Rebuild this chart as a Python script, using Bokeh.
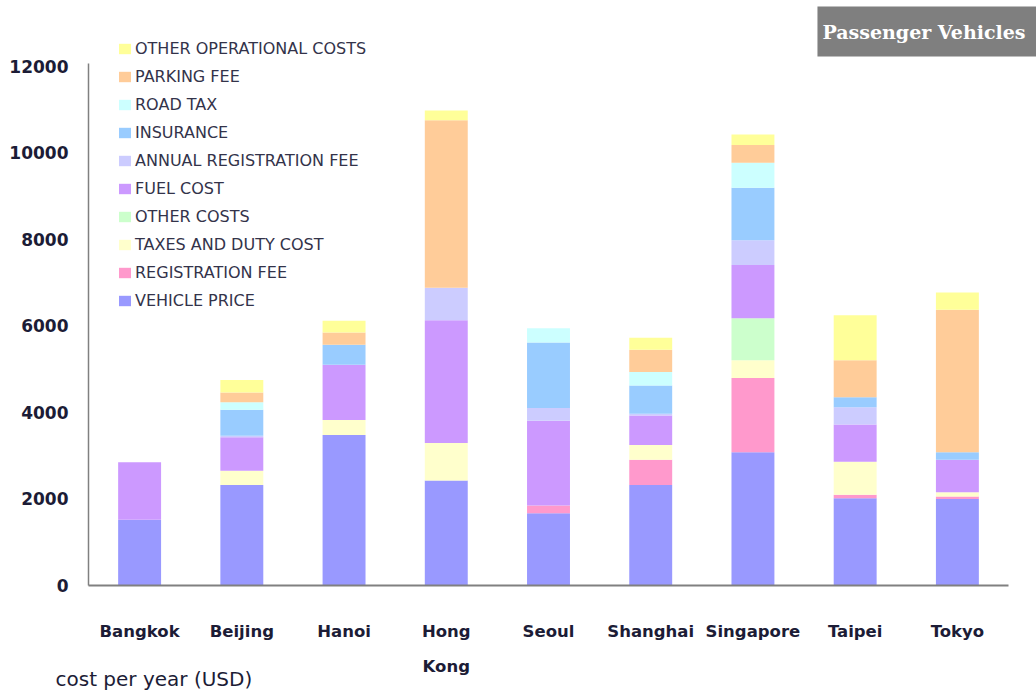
from bokeh.plotting import figure
from bokeh.models import Legend, LegendItem, Label, FixedTicker, Range1d
from bokeh.embed import file_html
from bokeh.resources import INLINE

cities = ["Bangkok", "Beijing", "Hanoi", "Hong Kong", "Seoul", "Shanghai", "Singapore", "Taipei", "Tokyo"]

vehicle_price     = [1520, 2325, 3480, 2425, 1670, 2325, 3080, 2020, 2000]
registration_fee  = [0,    0,    0,    0,    180,  585,  1715, 80,   60]
taxes_duty        = [0,    330,  345,  870,  0,    340,  415,  760,  95]
other_costs       = [0,    0,    0,    0,    0,    0,    970,  0,    0]
fuel_cost         = [1330, 770,  1280, 2840, 1960, 680,  1230, 860,  755]
annual_reg_fee    = [0,    40,   0,    750,  295,  40,   570,  400,  0]
insurance         = [0,    600,  460,  0,    1515, 655,  1215, 230,  170]
road_tax          = [0,    170,  0,    0,    330,  310,  580,  0,    0]
parking_fee       = [0,    230,  285,  3870, 0,    515,  410,  860,  3295]
other_operational = [0,    285,  270,  230,  0,    280,  245,  1040, 400]

series_keys = ["vehicle_price", "registration_fee", "taxes_duty", "other_costs", "fuel_cost",
               "annual_reg_fee", "insurance", "road_tax", "parking_fee", "other_operational"]
series_labels = ["VEHICLE PRICE", "REGISTRATION FEE", "TAXES AND DUTY COST", "OTHER COSTS", "FUEL COST",
                 "ANNUAL REGISTRATION FEE", "INSURANCE", "ROAD TAX", "PARKING FEE", "OTHER OPERATIONAL COSTS"]
series_values = [vehicle_price, registration_fee, taxes_duty, other_costs, fuel_cost,
                 annual_reg_fee, insurance, road_tax, parking_fee, other_operational]
colors = ["#9999FF", "#FF99CC", "#FFFFCC", "#CCFFCC", "#CC99FF",
          "#CCCCFF", "#99CCFF", "#CCFFFF", "#FFCC99", "#FFFF99"]
y_ticks = [0, 2000, 4000, 6000, 8000, 10000, 12000]

x_pos = list(range(len(cities)))
data = {"x": x_pos}
for k, v in zip(series_keys, series_values):
    data[k] = v

TEXT = "#1c1c36"

p = figure(width=1036, height=692, output_backend="svg", toolbar_location=None,
           min_border_left=0, min_border_right=0, min_border_top=0, min_border_bottom=0,
           x_range=Range1d(-1.36087, 8.77391), y_range=Range1d(-2474, 13526))

renderers = p.vbar_stack(series_keys, x="x", width=0.42, source=data, color=colors, line_color=None)

items = [LegendItem(label=lab, renderers=[r]) for lab, r in zip(series_labels, renderers)][::-1]
legend = Legend(items=items, location=(117, 382), padding=0, margin=0, spacing=8,
                label_height=20, glyph_height=13, glyph_width=15, label_standoff=3,
                border_line_color=None, background_fill_alpha=0,
                label_text_font="DejaVu Sans", label_text_font_size="16px", label_text_color="#33334a")
p.add_layout(legend, "center")

p.xgrid.visible = False
p.ygrid.visible = False
p.outline_line_color = None

p.yaxis.fixed_location = -0.5
p.yaxis.bounds = (0, 12069)
p.yaxis.ticker = FixedTicker(ticks=y_ticks)
p.yaxis.major_tick_out = 0
p.yaxis.major_tick_in = 0
p.yaxis.major_tick_line_color = None
p.yaxis.minor_tick_line_color = None
p.yaxis.major_label_standoff = 20
p.yaxis.major_label_text_font = "DejaVu Sans"
p.yaxis.major_label_text_font_style = "bold"
p.yaxis.major_label_text_font_size = "17px"
p.yaxis.major_label_text_color = TEXT
p.yaxis.axis_line_color = "#808080"
p.yaxis.axis_line_width = 1.5

p.xaxis.fixed_location = 0
p.xaxis.bounds = (-0.5, 8.5)
p.xaxis.ticker = FixedTicker(ticks=x_pos)
p.xaxis.major_label_overrides = {i: ("Hong" if c == "Hong Kong" else c) for i, c in zip(x_pos, cities)}
p.xaxis.major_tick_out = 0
p.xaxis.major_tick_in = 0
p.xaxis.major_tick_line_color = None
p.xaxis.minor_tick_line_color = None
p.xaxis.major_label_standoff = 37
p.xaxis.major_label_text_font = "DejaVu Sans"
p.xaxis.major_label_text_font_style = "bold"
p.xaxis.major_label_text_font_size = "16.5px"
p.xaxis.major_label_text_color = TEXT
p.xaxis.axis_line_color = "#808080"
p.xaxis.axis_line_width = 2

kong = Label(x=cities.index("Hong Kong"), y=-1873, text="Kong", text_align="center", text_baseline="middle",
             text_font="DejaVu Sans", text_font_style="bold", text_font_size="16.5px", text_color=TEXT)
p.add_layout(kong)

title = Label(x=927, y=661, x_units="screen", y_units="screen", text="Passenger Vehicles",
              text_align="center", text_baseline="middle", text_font="DejaVu Serif",
              text_font_style="bold", text_font_size="19px", text_color="white",
              background_fill_color="#7f7f7f",
              padding=dict(left=5, right=12, top=14, bottom=14))
p.add_layout(title)

unit_label = Label(x=55, y=14, x_units="screen", y_units="screen", text="cost per year (USD)",
                   text_align="left", text_baseline="middle", text_font="DejaVu Sans",
                   text_font_size="20px", text_color=TEXT)
p.add_layout(unit_label)

open("out.html", "w").write(file_html(p, INLINE))
